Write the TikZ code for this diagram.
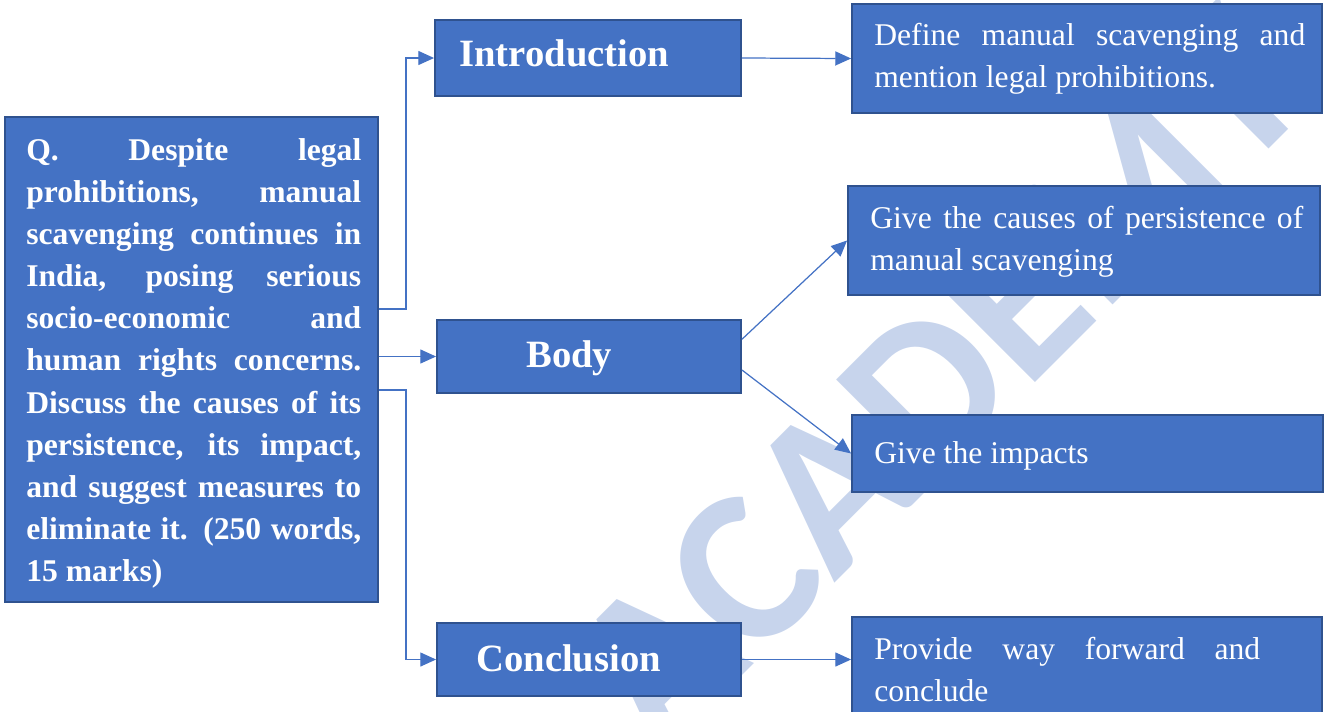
\documentclass[tikz,border=0pt]{standalone}
\usepackage{fontspec}
\setmainfont{Liberation Serif}
\newfontfamily\wmfont{Carlito}
\usetikzlibrary{arrows.meta,calc}
\definecolor{boxblue}{RGB}{68,114,196}
\definecolor{edgeblue}{RGB}{47,82,143}
\definecolor{wmblue}{RGB}{199,212,236}
\tolerance=10000
\pretolerance=10000
\hyphenpenalty=10000
\begin{document}
\begin{tikzpicture}[x=0.02cm,y=-0.02cm,
        box/.style={draw=edgeblue,fill=boxblue,line width=1.1pt,inner sep=0pt},
        head/.style={text=white,inner sep=0pt,anchor=base west,font=\fontsize{22}{26}\selectfont\bfseries},
        txt/.style={text=white,inner sep=0pt,anchor=base west,align=justify,font=\fontsize{18}{24}\selectfont},
        qtxt/.style={txt,font=\fontsize{18}{24}\selectfont\bfseries},
        link/.style={draw=boxblue,line width=0.7pt,-{Triangle[length=9pt,width=8pt]}}]
        \clip (0,0) rectangle (1325,711);
        \node[rotate=45,text=wmblue,font=\wmfont\bfseries\fontsize{125}{125}\selectfont] (wm) at (939,378) {ACADEMY};
        \node[box,minimum width=7.46cm,minimum height=9.7cm] (q) at (191.5,359.5) {};
        \node[box,minimum width=6.12cm,minimum height=1.52cm] (intro) at (588,58) {};
        \node[box,minimum width=6.08cm,minimum height=1.46cm] (body) at (589,356.5) {};
        \node[box,minimum width=6.08cm,minimum height=1.46cm] (concl) at (589,659.5) {};
        \node[box,minimum width=9.4cm,minimum height=2.18cm] (define) at (1087,58.5) {};
        \node[box,minimum width=9.44cm,minimum height=2.18cm] (causes) at (1084,240.5) {};
        \node[box,minimum width=9.42cm,minimum height=1.54cm] (impacts) at (1087.5,453.5) {};
        \node[box,minimum width=9.4cm,minimum height=2.46cm] (provide) at (1087,678.5) {};
        \node[qtxt,text width=6.7cm] (qtext) at (26,160) {Q. Despite legal\linebreak prohibitions, manual\linebreak scavenging continues in\linebreak India, posing serious\linebreak socio-economic and\linebreak human rights concerns.\linebreak Discuss the causes of its\linebreak persistence, its impact,\linebreak and suggest measures to\linebreak eliminate it. (250 words,\linebreak 15 marks)};
        \node[head] (introtext) at (459,66) {Introduction};
        \node[head] (bodytext) at (526,367) {Body};
        \node[head] (concltext) at (476,671) {Conclusion};
        \node[txt,text width=8.62cm] (definetext) at (874,45) {Define manual scavenging and\linebreak mention legal prohibitions.};
        \node[txt,text width=8.66cm] (causestext) at (870,228) {Give the causes of persistence of\linebreak manual scavenging};
        \node[txt,text width=8.62cm] (impactstext) at (874,463) {Give the impacts};
        \node[txt,text width=7.72cm] (providetext) at (874,659) {Provide way forward and\linebreak conclude};
        \draw[link] (q.east |- 0,309) -- (406,309) |- (intro.west);
        \draw[link] (q.east |- body.west) -- (body.west);
        \draw[link] (q.east |- 0,390) -- (406,390) |- (concl.west);
        \draw[link] (intro.east) -- (define.west);
        \draw[link] ($(body.north east)!0.27!(body.south east)$) -- (causes.west);
        \draw[link] ($(body.north east)!0.68!(body.south east)$) -- (impacts.west);
        \draw[link] (concl.east) -- (provide.west |- concl.east);
\end{tikzpicture}
\end{document}
